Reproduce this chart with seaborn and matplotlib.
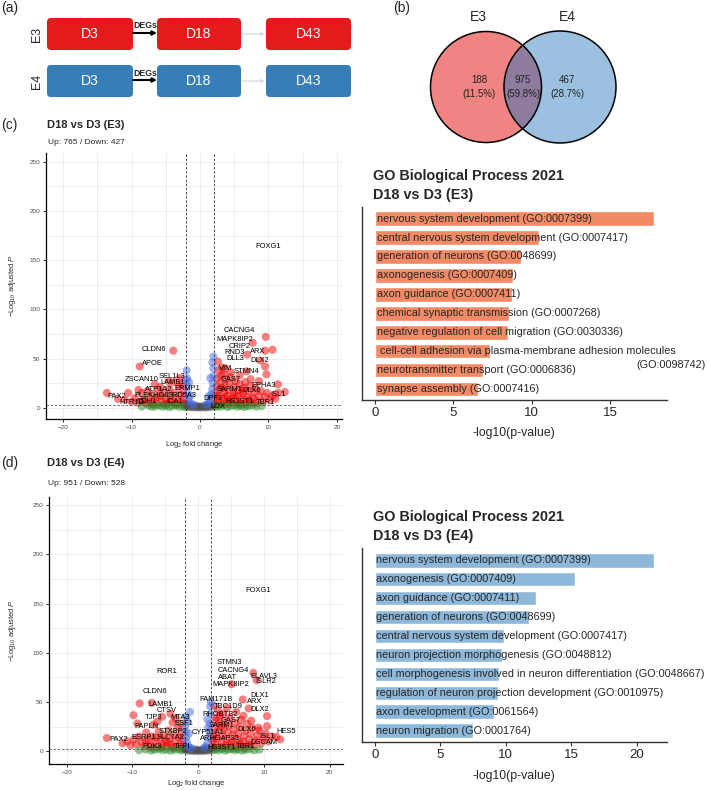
import numpy as np
import pandas as pd
import seaborn as sns
from matplotlib import pyplot as plt
from matplotlib.patches import FancyBboxPatch, Circle
from matplotlib.ticker import MultipleLocator

# ---------------- data ----------------
stages = ["D3", "D18", "D43"]
lines = ["E3", "E4"]
line_colors = ["#E41A1C", "#377EB8"]

venn_only_e3 = 188
venn_both = 975
venn_only_e4 = 467

e3_up, e3_down = 765, 427
e4_up, e4_down = 951, 528

fc_cut = 2.0
logp_cut = 2.7

# volcano points (log2FC, -log10 adj p)
e3_points = [
    # up, red
    (2.1, 4), (2.2, 9), (2.3, 15), (2.4, 22), (2.5, 30), (2.6, 6), (2.8, 12), (2.9, 19), (3.0, 26), (3.1, 33),
    (3.2, 4), (3.4, 9), (3.5, 16), (3.6, 23), (3.8, 29), (3.9, 6), (4.0, 12), (4.2, 18), (4.3, 25), (4.5, 31),
    (4.6, 5), (4.8, 10), (4.9, 15), (5.0, 21), (5.2, 27), (5.4, 6), (5.5, 12), (5.7, 18), (5.8, 24), (6.0, 4),
    (6.1, 9), (6.3, 14), (6.4, 20), (6.6, 26), (6.8, 6), (6.9, 11), (7.1, 17), (7.3, 22), (7.5, 5), (7.7, 10),
    (7.9, 15), (8.1, 20), (8.3, 7), (8.6, 12), (8.9, 17), (9.2, 6), (9.5, 11), (9.8, 15), (10.2, 8), (10.6, 12),
    (11.0, 9), (11.4, 15), (12.4, 16), (11.4, 23.8), (9.7, 34), (9.5, 42), (8.8, 48), (6.9, 54), (7.7, 66),
    (9.6, 72), (10.6, 59), (9.5, 58), (2.6, 47), (3.7, 40), (4.5, 36), (5.8, 33), (6.8, 37), (3.2, 41),
    (7.4, 29), (8.6, 27), (2.4, 12), (2.8, 3.5), (3.3, 20), (3.7, 11), (4.1, 3.5), (4.4, 8), (5.1, 13),
    (5.6, 3.5), (6.2, 17), (6.7, 3.5), (7.2, 8), (8.0, 4), (2.7, 38), (3.5, 34),
    # down, red
    (-2.1, 4), (-2.3, 10), (-2.5, 17), (-2.7, 6), (-2.9, 13), (-3.1, 22), (-3.3, 4), (-3.5, 9), (-3.7, 15),
    (-3.9, 26), (-4.1, 6), (-4.3, 12), (-4.5, 19), (-4.8, 4), (-5.0, 9), (-5.2, 15), (-5.5, 6), (-5.7, 12),
    (-6.0, 18), (-6.3, 4), (-6.5, 9), (-6.6, 24), (-6.9, 14), (-7.2, 6), (-7.5, 11), (-7.8, 4), (-8.1, 8),
    (-8.5, 15), (-9.0, 18), (-9.0, 5), (-9.5, 10), (-10.0, 6), (-10.5, 15), (-11.0, 8), (-12.0, 9),
    (-13.6, 15), (-3.9, 58), (-8.8, 42), (-3.0, 30), (-4.6, 27), (-5.8, 21), (-7.7, 17), (-2.4, 3.5),
    (-3.6, 3.5), (-4.4, 7), (-5.3, 3.5), (-6.2, 11), (-7.0, 3.5), (-8.4, 7), (-2.6, 24),
    # fold change only, green
    (-8.5, 1.2), (-7.5, 2.0), (-7.0, 0.8), (-6.5, 1.6), (-6.0, 2.3), (-5.5, 1.0), (-5.0, 1.8), (-4.5, 0.6),
    (-4.0, 1.5), (-3.5, 2.2), (-3.0, 0.9), (-2.5, 1.7), (-2.2, 0.5), (2.2, 0.6), (2.6, 1.8), (3.0, 1.0),
    (3.5, 2.2), (4.0, 0.7), (4.5, 1.6), (5.0, 2.3), (5.5, 1.0), (6.0, 1.8), (6.5, 0.7), (7.0, 1.5),
    (7.5, 2.2), (8.2, 1.0), (9.0, 1.6),
    # not significant, grey
    (-1.9, 1.5), (-1.6, 0.5), (-1.3, 1.2), (-1.0, 0.3), (-0.7, 0.9), (-0.4, 0.2), (-0.1, 0.6), (0.2, 0.3),
    (0.5, 0.8), (0.8, 0.2), (1.1, 1.0), (1.4, 0.5), (1.7, 1.4), (1.9, 2.0), (-1.8, 2.4), (0.0, 1.5),
    (-0.5, 1.8), (0.7, 1.9), (1.2, 2.3),
    # p-value only, blue
    (-1.95, 38), (-1.9, 30), (-1.85, 22), (-1.8, 15), (-1.7, 9), (-1.5, 5), (-1.2, 3.5), (-0.9, 3.0),
    (0.9, 3.2), (1.2, 4), (1.4, 6), (1.6, 10), (1.7, 14), (1.8, 19), (1.85, 25), (1.9, 32), (1.95, 40),
    (1.95, 52), (1.8, 46), (1.5, 30), (1.3, 12), (-1.4, 12), (-1.6, 26), (-2.0, 28),
]

e4_points = [
    # up, red
    (2.1, 4), (2.2, 10), (2.3, 17), (2.5, 24), (2.6, 31), (2.7, 6), (2.9, 13), (3.0, 20), (3.2, 28), (3.3, 36),
    (3.4, 4), (3.6, 9), (3.7, 16), (3.9, 23), (4.0, 30), (4.2, 6), (4.3, 12), (4.5, 19), (4.6, 26), (4.8, 34),
    (5.0, 4), (5.1, 10), (5.3, 16), (5.4, 22), (5.6, 29), (5.8, 6), (6.0, 12), (6.1, 18), (6.3, 25), (6.5, 32),
    (6.7, 5), (6.8, 10), (7.0, 15), (7.2, 21), (7.4, 28), (7.6, 7), (7.8, 12), (8.0, 18), (8.2, 24), (8.5, 6),
    (8.7, 11), (9.0, 16), (9.3, 21), (9.6, 8), (9.9, 13), (10.3, 18), (10.7, 10), (11.2, 15), (11.9, 14.5),
    (10.5, 25.5), (9.2, 24), (8.4, 79.6), (8.9, 72.2), (5.1, 68), (6.8, 52.5), (7.7, 43.4), (10.5, 35.6),
    (4.4, 44), (5.8, 40), (3.0, 42), (2.4, 46), (6.9, 36), (8.1, 31), (12.5, 12), (2.4, 13), (2.8, 3.5),
    (3.5, 25), (4.1, 3.5), (4.9, 8), (5.7, 3.5), (6.4, 8), (7.1, 3.5), (7.9, 5), (2.8, 34), (3.8, 38),
    # down, red
    (-2.1, 5), (-2.3, 12), (-2.5, 19), (-2.7, 7), (-2.9, 14), (-3.1, 24), (-3.3, 4), (-3.5, 10), (-3.7, 17),
    (-3.9, 29), (-4.1, 6), (-4.3, 13), (-4.5, 21), (-4.8, 5), (-5.0, 10), (-5.2, 16), (-5.5, 7), (-5.7, 13),
    (-6.0, 20), (-6.3, 4), (-6.5, 10), (-6.8, 27), (-7.0, 15), (-7.3, 6), (-7.6, 12), (-7.9, 19), (-8.2, 5),
    (-8.6, 9), (-9.0, 15), (-9.4, 7), (-9.8, 12), (-10.3, 6), (-10.8, 10), (-11.5, 8), (-13.9, 13.5),
    (-8.9, 48.5), (-7.05, 49.1), (-9.84, 36.6), (-9.24, 28.1), (-5.5, 35), (-4.2, 38), (-3.4, 33), (-6.2, 30),
    (-2.4, 3.5), (-3.8, 3.5), (-4.6, 9), (-5.6, 3.5), (-6.4, 14), (-7.1, 3.5), (-8.0, 11), (-2.6, 28),
    # fold change only, green
    (-9.0, 1.0), (-8.0, 1.8), (-7.2, 0.7), (-6.6, 1.5), (-6.0, 2.2), (-5.4, 0.9), (-4.8, 1.7), (-4.2, 0.5),
    (-3.6, 1.4), (-3.0, 2.1), (-2.6, 0.8), (-2.2, 1.6), (2.2, 0.7), (2.6, 1.7), (3.1, 0.9), (3.6, 2.1),
    (4.1, 0.6), (4.6, 1.5), (5.1, 2.2), (5.6, 0.9), (6.1, 1.7), (6.7, 0.6), (7.2, 1.4), (7.8, 2.0),
    (8.5, 0.9), (9.3, 1.5),
    # not significant, grey
    (-1.9, 1.5), (-1.6, 0.5), (-1.3, 1.2), (-1.0, 0.3), (-0.7, 0.9), (-0.4, 0.2), (-0.1, 0.6), (0.2, 0.3),
    (0.5, 0.8), (0.8, 0.2), (1.1, 1.0), (1.4, 0.5), (1.7, 1.4), (1.9, 2.0), (-1.8, 2.4), (0.0, 1.5),
    (-0.5, 1.8), (0.7, 1.9), (1.2, 2.3),
    # p-value only, blue
    (-1.95, 26), (-1.9, 20), (-1.8, 14), (-1.7, 9), (-1.5, 5), (-1.3, 3.5), (-1.0, 3.0), (-1.22, 39.9),
    (-1.6, 30), (-1.85, 35), (-1.4, 18), (1.83, 45.7), (1.42, 32.2), (1.9, 38), (1.8, 28), (1.7, 20),
    (1.6, 14), (1.4, 8), (1.1, 4.5), (0.9, 3.2), (1.95, 50), (1.5, 24),
]

e3_genes = ["FOXG1", "CACNG4", "MAPK8IP2", "CRIP2", "RND3", "ARX", "DLL3", "DLX2", "VIM", "STMN4",
            "GAS7", "EPHA3", "SARM1", "DLX6", "ISL1", "DPF1", "HS3ST1", "TBR1", "LOX", "CLDN6",
            "APOE", "SEL1L3", "ZSCAN10", "LAMB1", "ATP1A2", "ERMP1", "PLEKHG6", "SRD5A3", "PAX2", "HTR1D",
            "CDH1", "ICA1"]
e3_gene_lfc = [9.97, 5.74, 5.11, 5.74, 5.11, 8.37, 5.11, 8.76, 3.70, 6.81,
               4.48, 9.34, 4.28, 7.54, 11.34, 1.95, 5.84, 9.49, 2.67, -6.66,
               -6.91, -4.14, -8.52, -3.99, -6.08, -1.85, -7.06, -2.67, -12.16, -9.97,
               -7.78, -3.65]
e3_gene_logp = [163.8, 79.0, 68.9, 62.1, 56.0, 57.0, 50.2, 47.8, 40.1, 37.3,
                28.2, 22.1, 18.7, 17.3, 13.6, 9.5, 6.1, 5.5, 1.7, 59.4,
                45.2, 32.2, 28.2, 26.1, 19.0, 19.7, 12.9, 12.9, 11.2, 5.1,
                5.8, 6.8]

e4_genes = ["FOXG1", "STMN3", "CACNG4", "ELAVL3", "ABAT", "ISLR2", "MAPK8IP2", "ROR1", "CLDN6", "DLX1",
            "FAM171B", "ARX", "LAMB1", "TBC1D9", "DLX2", "CTSV", "RHOBTB2", "TJP3", "MTA3", "GAS7",
            "ESF1", "PAPLN", "SARM1", "DLX6", "STXBP2", "CYP51A1", "HES5", "PAX2", "ESRP1", "SLC7A2",
            "ARHGAP33", "ISL1", "DSCAM", "PDK3", "TFPI", "HS3ST1", "TBR1"]
e4_gene_lfc = [9.18, 4.77, 5.38, 9.94, 4.52, 10.2, 5.02, -4.77, -6.54, 9.44,
               2.74, 8.68, -5.68, 4.52, 9.33, -4.77, 3.35, -6.8, -2.74, 5.02,
               -2.24, -7.8, 3.6, 7.41, -3.76, 1.57, 13.4, -12.13, -8.22, -4.26,
               3.35, 10.46, 9.94, -7.05, -2.48, 3.6, 7.15]
e4_gene_logp = [163.6, 90.1, 81.6, 75.5, 74.5, 70.4, 67.8, 80.6, 60.3, 56.2,
                52.5, 50.1, 47.5, 45.0, 42.4, 41.7, 37.3, 34.2, 34.2, 31.5,
                28.1, 24.7, 26.4, 22.0, 19.6, 18.6, 19.6, 11.9, 13.9, 13.5,
                12.9, 14.5, 8.4, 4.4, 4.4, 3.8, 4.4]

go_e3_terms = [
    "nervous system development (GO:0007399)",
    "central nervous system development (GO:0007417)",
    "generation of neurons (GO:0048699)",
    "axonogenesis (GO:0007409)",
    "axon guidance (GO:0007411)",
    "chemical synaptic transmission (GO:0007268)",
    "negative regulation of cell migration (GO:0030336)",
    "cell-cell adhesion via plasma-membrane adhesion molecules (GO:0098742)",
    "neurotransmitter transport (GO:0006836)",
    "synapse assembly (GO:0007416)",
]
go_e3_values = [17.77, 10.47, 9.34, 8.81, 8.74, 8.54, 8.45, 7.32, 6.90, 6.54]

go_e4_terms = [
    "nervous system development (GO:0007399)",
    "axonogenesis (GO:0007409)",
    "axon guidance (GO:0007411)",
    "generation of neurons (GO:0048699)",
    "central nervous system development (GO:0007417)",
    "neuron projection morphogenesis (GO:0048812)",
    "cell morphogenesis involved in neuron differentiation (GO:0048667)",
    "regulation of neuron projection development (GO:0010975)",
    "axon development (GO:0061564)",
    "neuron migration (GO:0001764)",
]
go_e4_values = [21.36, 15.28, 12.28, 11.80, 9.88, 9.70, 9.52, 9.39, 9.11, 7.48]

# ---------------- style ----------------
sns.set_style("white")
plt.rcParams["font.family"] = ["Liberation Sans", "DejaVu Sans"]
plt.rcParams["mathtext.fontset"] = "custom"
plt.rcParams["mathtext.rm"] = "Liberation Sans"
plt.rcParams["mathtext.it"] = "Liberation Sans:italic"
plt.rcParams["mathtext.bf"] = "Liberation Sans:bold"

W, H = 709, 790
fig = plt.figure(figsize=(W / 100, H / 100), dpi=100)


def px_axes(left, top, right, bottom):
    return fig.add_axes([left / W, 1 - bottom / H, (right - left) / W, (bottom - top) / H])


def fig_text(x, y, s, **kw):
    fig.text(x / W, 1 - y / H, s, **kw)


# ---------------- (a) design ----------------
ax_a = px_axes(0, 0, 360, 135)
ax_a.set_xlim(0, 360)
ax_a.set_ylim(135, 0)
ax_a.axis("off")
box_x = [(47, 133), (157, 241), (266, 351)]
row_y = [(18, 50), (65, 97)]
for (y0, y1), name, col in zip(row_y, lines, line_colors):
    for (x0, x1), st in zip(box_x, stages):
        ax_a.add_patch(FancyBboxPatch((x0, y0), x1 - x0, y1 - y0,
                                      boxstyle="round,pad=0,rounding_size=4",
                                      fc=col, ec="none"))
        ax_a.text((x0 + x1) / 2, (y0 + y1) / 2, st, color="white", fontsize=10,
                  ha="center", va="center")
    yc = (y0 + y1) / 2
    ax_a.text(37, yc, name, rotation=90, fontsize=9, ha="center", va="center")
    ax_a.annotate("", xy=(157, yc - 1), xytext=(133, yc - 1),
                  arrowprops=dict(arrowstyle="-|>", color="black", lw=1.5,
                                  shrinkA=0, shrinkB=0, mutation_scale=6))
    ax_a.text(145, yc - 8, "DEGs", fontsize=6.3, fontweight="bold", ha="center", va="center")
    ax_a.annotate("", xy=(265, yc), xytext=(242, yc),
                  arrowprops=dict(arrowstyle="-|>", color="#DDDDDD", lw=1.0,
                                  shrinkA=0, shrinkB=0, mutation_scale=5))
fig_text(1, 8, "(a)", fontsize=10, va="center")

# ---------------- (b) venn ----------------
ax_b = px_axes(360, 0, 709, 150)
ax_b.set_xlim(360, 709)
ax_b.set_ylim(150, 0)
ax_b.axis("off")
c_left = Circle((486, 87), 55.5, fc="#F08482", ec="none")
c_right = Circle((560, 87), 56, fc="#9CC1E0", ec="none")
ax_b.add_patch(c_left)
ax_b.add_patch(c_right)
c_mid = Circle((486, 87), 55.5, fc="#8E7C9E", ec="none")
ax_b.add_patch(c_mid)
c_mid.set_clip_path(c_right)
ax_b.add_patch(Circle((486, 87), 55.5, fill=False, ec="black", lw=1.1))
ax_b.add_patch(Circle((560, 87), 56, fill=False, ec="black", lw=1.1))
total = venn_only_e3 + venn_both + venn_only_e4
for xc, n in zip([479, 523, 567], [venn_only_e3, venn_both, venn_only_e4]):
    ax_b.text(xc, 87, f"{n}\n({n / total * 100:.1f}%)", fontsize=7, ha="center",
              va="center", color="#222222", linespacing=1.5)
ax_b.text(478, 17, lines[0], fontsize=10, ha="center", va="center")
ax_b.text(567, 17, lines[1], fontsize=10, ha="center", va="center")
fig_text(393, 8, "(b)", fontsize=10, va="center")

# ---------------- volcano ----------------
palette = {"NS": "#4D4D4D", "Log2FC": "#228B22", "p": "#4169E1", "both": "#EE0000"}


def classify(lfc, logp):
    big = abs(lfc) > fc_cut
    sig = logp > logp_cut
    if big and sig:
        return "both"
    if sig:
        return "p"
    if big:
        return "Log2FC"
    return "NS"


def volcano(ax, points, genes, g_lfc, g_logp, xlim, ylim):
    df = pd.DataFrame(points, columns=["lfc", "logp"])
    df["group"] = [classify(a, b) for a, b in zip(df["lfc"], df["logp"])]
    sns.scatterplot(data=df, x="lfc", y="logp", hue="group", palette=palette,
                    hue_order=["NS", "Log2FC", "p", "both"], s=34, alpha=0.5,
                    linewidth=0, legend=False, ax=ax, zorder=3)
    for g, x, y in zip(genes, g_lfc, g_logp):
        ax.text(x, y, g, fontsize=5.4, ha="center", va="center", color="black", zorder=5)
    ax.axvline(-fc_cut, color="#333333", lw=0.6, ls=(0, (3, 2)), zorder=4)
    ax.axvline(fc_cut, color="#333333", lw=0.6, ls=(0, (3, 2)), zorder=4)
    ax.axhline(logp_cut, color="#555555", lw=0.6, ls=(0, (3, 2)), zorder=4)
    ax.set_xlim(*xlim)
    ax.set_ylim(*ylim)
    ax.xaxis.set_major_locator(MultipleLocator(10))
    ax.xaxis.set_minor_locator(MultipleLocator(5))
    ax.yaxis.set_major_locator(MultipleLocator(50))
    ax.yaxis.set_minor_locator(MultipleLocator(25))
    ax.grid(which="both", color="#EBEBEB", lw=0.6, zorder=0)
    ax.set_axisbelow(True)
    for s in ["top", "right"]:
        ax.spines[s].set_visible(False)
    for s in ["left", "bottom"]:
        ax.spines[s].set_color("black")
        ax.spines[s].set_linewidth(0.9)
    ax.tick_params(which="major", length=2.5, width=0.6, color="black", labelsize=4.6,
                   labelcolor="#4D4D4D", pad=1.5, left=True, bottom=True)
    ax.tick_params(which="minor", length=0)
    ax.set_xlabel(r"Log$_{2}$ fold change", fontsize=5.4)
    ax.set_ylabel(r"$-$Log$_{10}$ adjusted $\it{P}$", fontsize=5.4)


ax_c = px_axes(46, 153, 341.7, 419.3)
volcano(ax_c, e3_points, e3_genes, e3_gene_lfc, e3_gene_logp, (-22.5, 20.7), (-11.8, 259))
ax_c.xaxis.set_label_coords(0.5, -0.075)
ax_c.yaxis.set_label_coords((18 - 46) / 295.7, 0.5)
fig_text(1, 125, "(c)", fontsize=10, va="center")
fig_text(47, 125, "D18 vs D3 (E3)", fontsize=8, fontweight="bold", va="center")
fig_text(48, 142, f"Up: {e3_up} / Down: {e3_down}", fontsize=6, va="center")

ax_d = px_axes(49, 496.7, 343.3, 764)
volcano(ax_d, e4_points, e4_genes, e4_gene_lfc, e4_gene_logp, (-22.7, 22.1), (-13, 258.5))
ax_d.xaxis.set_label_coords(0.5, -0.052)
ax_d.yaxis.set_label_coords((18 - 49) / 294.3, 0.5)
fig_text(1, 463, "(d)", fontsize=10, va="center")
fig_text(47, 463, "D18 vs D3 (E4)", fontsize=8, fontweight="bold", va="center")
fig_text(48, 483, f"Up: {e4_up} / Down: {e4_down}", fontsize=6, va="center")


# ---------------- GO enrichment bars ----------------
def go_panel(ax, terms, values, color, xlim, wrap_x):
    df = pd.DataFrame({"term": terms, "value": values})
    sns.barplot(data=df, x="value", y="term", color=color, saturation=1, width=0.77,
                ax=ax, zorder=2)
    ax.set_ylim(len(terms) - 0.42, -0.63)
    ax.set_xlim(*xlim)
    ax.set_yticks([])
    ax.set_ylabel("")
    for i, t in enumerate(terms):
        if len(t) > 66:
            head, tail = t.rsplit(" ", 1)
            ax.text(0.3, i, head, fontsize=7.8, ha="left", va="center", zorder=3)
            ax.text(wrap_x, i + 0.72, tail, fontsize=7.8, ha="right", va="center",
                    zorder=3, clip_on=False)
        else:
            ax.text(0.12, i, t, fontsize=7.8, ha="left", va="center", zorder=3)
    for s in ["top", "right"]:
        ax.spines[s].set_visible(False)
    for s in ["left", "bottom"]:
        ax.spines[s].set_color("#333333")
        ax.spines[s].set_linewidth(1.0)
    ax.xaxis.set_major_locator(MultipleLocator(5))
    ax.tick_params(axis="x", length=3, width=0.8, color="#333333", labelsize=9.5,
                   pad=2, bottom=True)
    ax.set_xlabel("-log10(p-value)", fontsize=8.8)


ax_e = px_axes(361.7, 206.7, 666.7, 400)
go_panel(ax_e, go_e3_terms, go_e3_values, "#F28B65", (-0.85, 18.6), 21.1)
ax_e.xaxis.set_label_coords(0.5, -0.138)
fig_text(373, 176, "GO Biological Process 2021", fontsize=10.4, fontweight="bold", va="center")
fig_text(373, 195, "D18 vs D3 (E3)", fontsize=10.4, fontweight="bold", va="center")

ax_f = px_axes(361.7, 548.3, 666.7, 741.7)
go_panel(ax_f, go_e4_terms, go_e4_values, "#8DB8DA", (-1.0, 22.3), 25.0)
ax_f.xaxis.set_label_coords(0.5, -0.146)
fig_text(373, 517, "GO Biological Process 2021", fontsize=10.4, fontweight="bold", va="center")
fig_text(373, 536, "D18 vs D3 (E4)", fontsize=10.4, fontweight="bold", va="center")

fig.savefig("out.png", dpi=100)
